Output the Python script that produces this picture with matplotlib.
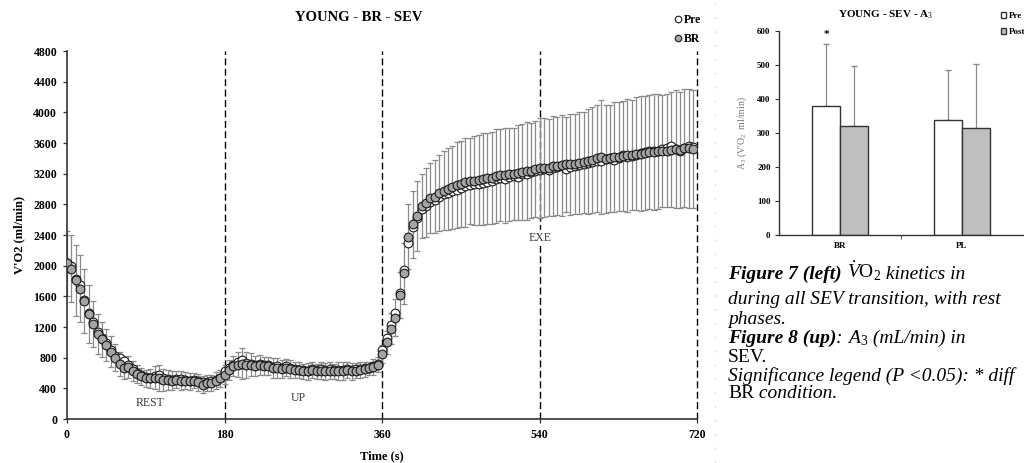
#!/usr/bin/env python3

'''
VO2 kinetics during the SEV transition (Pre vs BR) and A3 amplitude bars
'''

import numpy as np
import matplotlib
matplotlib.use('Agg')
import matplotlib.pyplot as plt
from matplotlib.lines import Line2D
from matplotlib.patches import Patch

plt.rcParams['font.family'] = ['Liberation Serif', 'DejaVu Serif']
plt.rcParams['mathtext.fontset'] = 'custom'
plt.rcParams['mathtext.rm'] = 'Liberation Serif'
plt.rcParams['mathtext.it'] = 'Liberation Serif:italic'
plt.rcParams['mathtext.bf'] = 'Liberation Serif:bold'

# one sample every 5 s, 0..715 s (one row per minute)
time_s = np.arange(0, 720, 5)

vo2_pre = [
    2040, 1990, 1830, 1750, 1550, 1380, 1260, 1130, 1060, 990, 900, 820,
    790, 760, 700, 650, 600, 570, 550, 540, 560, 580, 540, 520,
    510, 520, 520, 510, 500, 510, 490, 480, 480, 490, 510, 540,
    630, 660, 710, 750, 770, 730, 720, 700, 720, 700, 700, 680,
    690, 660, 690, 660, 650, 640, 640, 630, 650, 640, 650, 640,
    650, 640, 640, 640, 650, 640, 650, 650, 660, 670, 690, 720,
    900, 1060, 1220, 1380, 1650, 1950, 2300, 2500, 2620, 2740, 2780, 2830,
    2860, 2900, 2930, 2950, 2970, 2990, 3010, 3040, 3050, 3070, 3060, 3080,
    3090, 3100, 3130, 3140, 3130, 3160, 3170, 3160, 3200, 3190, 3220, 3240,
    3250, 3260, 3250, 3280, 3290, 3300, 3260, 3290, 3300, 3310, 3330, 3340,
    3350, 3360, 3370, 3390, 3400, 3380, 3400, 3440, 3420, 3430, 3450, 3470,
    3480, 3490, 3500, 3490, 3520, 3530, 3560, 3520, 3500, 3540, 3560, 3550,
]

vo2_br = [
    2030, 1960, 1810, 1700, 1540, 1370, 1240, 1110, 1040, 970, 880, 800,
    720, 670, 680, 630, 590, 560, 530, 530, 540, 530, 510, 510,
    500, 510, 500, 500, 490, 500, 480, 450, 470, 470, 500, 530,
    580, 640, 690, 710, 720, 710, 710, 690, 700, 690, 690, 660,
    670, 650, 670, 650, 640, 640, 620, 620, 640, 620, 630, 620,
    630, 620, 630, 630, 640, 620, 630, 640, 650, 660, 680, 710,
    850, 1000, 1180, 1320, 1620, 1900, 2380, 2540, 2650, 2780, 2820, 2880,
    2900, 2950, 2980, 3000, 3020, 3050, 3070, 3090, 3100, 3110, 3120, 3130,
    3140, 3150, 3170, 3180, 3180, 3190, 3200, 3210, 3220, 3230, 3240, 3260,
    3270, 3280, 3280, 3300, 3300, 3310, 3320, 3320, 3330, 3340, 3350, 3360,
    3380, 3400, 3420, 3390, 3400, 3420, 3420, 3430, 3440, 3440, 3460, 3460,
    3470, 3480, 3480, 3490, 3500, 3500, 3510, 3520, 3510, 3540, 3530, 3520,
]

vo2_sd = [
    420, 440, 460, 440, 420, 380, 300, 260, 230, 210, 200, 180,
    160, 150, 140, 130, 120, 110, 110, 120, 150, 170, 140, 130,
    120, 110, 120, 110, 110, 100, 110, 110, 110, 110, 110, 110,
    120, 130, 130, 160, 200, 170, 150, 130, 130, 120, 120, 130,
    130, 120, 110, 120, 110, 110, 100, 110, 110, 100, 110, 110,
    110, 100, 120, 120, 100, 110, 100, 100, 100, 90, 100, 100,
    120, 150, 200, 240, 300, 400, 420, 440, 460, 420, 450, 460,
    480, 500, 520, 530, 540, 560, 560, 580, 560, 580, 590, 600,
    590, 600, 610, 600, 620, 610, 600, 620, 630, 640, 620, 630,
    650, 640, 630, 650, 640, 660, 620, 660, 650, 660, 660, 680,
    690, 700, 740, 700, 700, 720, 710, 720, 740, 720, 740, 750,
    740, 740, 760, 750, 730, 740, 750, 770, 760, 770, 780, 770,
]

phase_bounds = [180, 360, 540, 720]
phase_names = ['REST', 'UP', 'EXE']
phase_label_x = [95, 264, 540]
phase_label_y = [210, 275, 2360]

# A3 amplitude
conditions = ['BR', 'PL']
a3_pre = [380, 338]
a3_post = [321, 316]
a3_pre_sd = [181, 146]
a3_post_sd = [175, 186]

fig = plt.figure(figsize=(10.24, 4.63), dpi=100)
fig.patch.set_facecolor('white')

# ---- left: VO2 kinetics ----
ax = fig.add_axes([0.0654, 0.095, 0.6157, 0.7948])
ax.errorbar(time_s, vo2_br, yerr=vo2_sd, fmt='none', ecolor='#8a8a8a',
            elinewidth=0.9, capsize=2.5, capthick=0.9, zorder=1)
pre_line, = ax.plot(time_s, vo2_pre, 'o', ms=6.3, mfc='white', mec='#1a1a1a',
                    mew=0.8, zorder=3, label='Pre')
br_line, = ax.plot(time_s, vo2_br, 'o', ms=6.3, mfc='#a4a4a4', mec='#1a1a1a',
                   mew=0.8, zorder=4, label='BR')

for xb in phase_bounds:
    ax.axvline(xb, color='black', lw=1.0, dashes=(5, 2.5), zorder=0,
               clip_on=False)

for name, px, py in zip(phase_names, phase_label_x, phase_label_y):
    bbox = dict(facecolor='white', edgecolor='none', pad=1.5) if name == 'EXE' else None
    ax.text(px, py, name, ha='center', va='center', fontsize=8.5,
            color='#3a3a3a', bbox=bbox, zorder=2)

ax.set_xlim(0, 720)
ax.set_ylim(0, 4800)
ax.set_xticks([0, 180, 360, 540, 720])
ax.set_yticks(np.arange(0, 4801, 400))
for s in ['top', 'right']:
    ax.spines[s].set_visible(False)
for s in ['left', 'bottom']:
    ax.spines[s].set_color('#333333')
    ax.spines[s].set_linewidth(1.2)
ax.tick_params(direction='out', length=3, width=0.9, color='#333333',
               labelsize=8.5, pad=4)
for lab in ax.get_xticklabels() + ax.get_yticklabels():
    lab.set_fontweight('bold')
ax.set_xlabel('Time (s)', fontweight='bold', fontsize=9, labelpad=7)
ax.set_ylabel("V'O2 (ml/min)", fontweight='bold', fontsize=9, labelpad=6)

fig.text(0.35, 0.963, 'YOUNG - BR - SEV', ha='center', va='center',
         fontweight='bold', fontsize=10.5)

ax.legend(handles=[pre_line, br_line], loc='upper left',
          bbox_to_anchor=(0.651, 0.988), bbox_transform=fig.transFigure,
          frameon=False, handlelength=0.6, handletextpad=0.2,
          markerscale=0.75, labelspacing=0.65, borderpad=0.2,
          prop=dict(weight='bold', size=8.5))

# faint column of marks between the panels
fig.add_artist(Line2D([0.698, 0.698], [0, 1], transform=fig.transFigure,
                      color='#d0d0d0', lw=0.8, dashes=(1.5, 11)))

# ---- right: A3 bars ----
bx = fig.add_axes([0.7607, 0.4924, 0.2383, 0.4406])
xpos = np.arange(len(conditions))
w = 0.23
bx.bar(xpos - w / 2, a3_pre, w, color='white', edgecolor='#333333', lw=1.0,
       label='Pre', zorder=2)
bx.bar(xpos + w / 2, a3_post, w, color='#bfbfbf', edgecolor='#333333', lw=1.0,
       label='Post', zorder=2)
bx.errorbar(xpos - w / 2, a3_pre, yerr=[np.zeros(2), a3_pre_sd], fmt='none',
            ecolor='#8a8a8a', elinewidth=0.9, capsize=2, zorder=1)
bx.errorbar(xpos + w / 2, a3_post, yerr=[np.zeros(2), a3_post_sd], fmt='none',
            ecolor='#8a8a8a', elinewidth=0.9, capsize=2, zorder=1)
bx.text(xpos[0] - w / 2, a3_pre[0] + a3_pre_sd[0] + 28, '*', ha='center',
        va='center', fontsize=8, fontweight='bold')

bx.set_xlim(-0.5, 1.5)
bx.set_ylim(0, 600)
bx.set_yticks(np.arange(0, 601, 100))
bx.set_xticks(xpos)
bx.set_xticklabels(conditions)
bx.set_xticks([0.5], minor=True)
bx.tick_params(axis='x', which='major', length=0, labelsize=6.5, pad=5)
bx.tick_params(axis='x', which='minor', length=3, direction='out', color='#333333')
bx.tick_params(axis='y', direction='out', length=3, color='#333333',
               labelsize=6.5, pad=3)
for lab in bx.get_xticklabels() + bx.get_yticklabels():
    lab.set_fontweight('bold')
for s in ['top', 'right']:
    bx.spines[s].set_visible(False)
for s in ['left', 'bottom']:
    bx.spines[s].set_color('#333333')
    bx.spines[s].set_linewidth(1.0)
bx.set_ylabel("A$_3$ (V'O$_2$  ml/min)", fontsize=7, color='#7a7a7a', labelpad=6)

fig.text(0.865, 0.968, 'YOUNG - SEV - A$_3$', ha='center', va='center',
         fontweight='bold', fontsize=8)
bx.legend(handles=[Patch(facecolor='white', edgecolor='#333333'),
                   Patch(facecolor='#bfbfbf', edgecolor='#333333')],
          labels=['Pre', 'Post'], loc='upper left',
          bbox_to_anchor=(0.972, 0.986), bbox_transform=fig.transFigure,
          frameon=False, handlelength=0.6, handleheight=0.6,
          handletextpad=0.25, labelspacing=0.9, borderpad=0.1,
          prop=dict(weight='bold', size=6.5))

# ---- caption ----
renderer = fig.canvas.get_renderer()
fig_w = fig.get_figwidth() * fig.dpi


def put_line(x, y, pieces, size=14):
    for text, style, weight in pieces:
        t = fig.text(x, y, text, fontstyle=style, fontweight=weight,
                     fontsize=size, va='baseline', ha='left')
        x = t.get_window_extent(renderer).x1 / fig_w


cap_x = 0.711
put_line(cap_x, 0.398, [('Figure 7 (left) ', 'italic', 'bold'),
                        (r'$\dot{V}$O$_2$', 'normal', 'normal'),
                        (' kinetics in', 'italic', 'normal')])
put_line(cap_x, 0.343, [('during all SEV transition, with rest', 'italic', 'normal')])
put_line(cap_x, 0.300, [('phases.', 'italic', 'normal')])
put_line(cap_x, 0.260, [('Figure 8 (up)', 'italic', 'bold'),
                        (': ', 'italic', 'normal'),
                        ('A', 'italic', 'normal'),
                        ('$_3$', 'normal', 'normal'),
                        (' (mL/min) in', 'italic', 'normal')])
put_line(cap_x, 0.219, [('SEV.', 'normal', 'normal')])
put_line(cap_x, 0.178, [('Significance legend (P <0.05): * diff', 'italic', 'normal')])
put_line(cap_x, 0.141, [('BR', 'normal', 'normal'),
                        (' condition.', 'italic', 'normal')])

plt.savefig('out.png', dpi=100, facecolor='white')
